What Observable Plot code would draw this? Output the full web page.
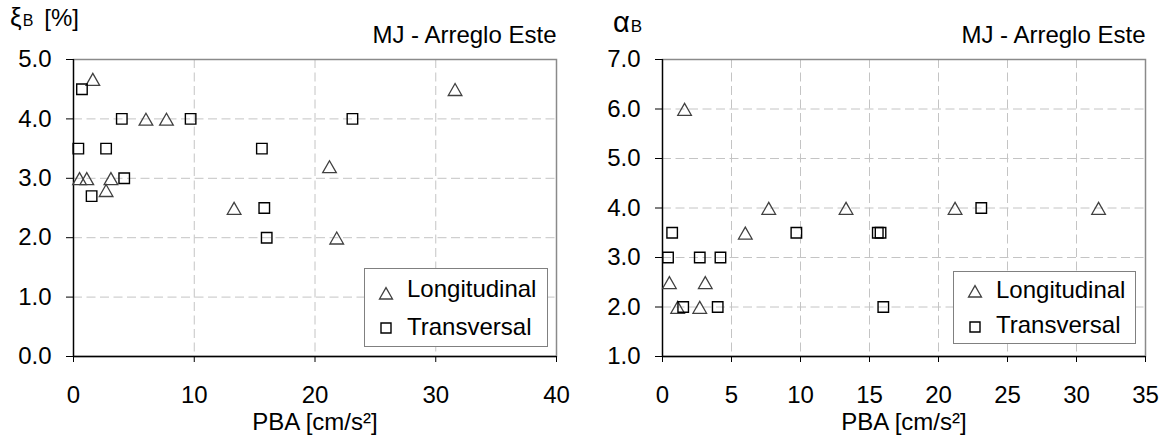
<!DOCTYPE html>
<html><head><meta charset="utf-8">
<script src="https://cdn.jsdelivr.net/npm/d3@7"></script>
<script src="https://cdn.jsdelivr.net/npm/@observablehq/plot@0.6"></script>
<style>
body{margin:0;background:#fff;font-family:"Liberation Sans",Arial,sans-serif;}
#wrap{display:flex;width:1164px;height:437px;}
.panel{position:relative;width:582px;height:437px;}
.legend{position:absolute;background:#fff;border:1px solid #808080;box-sizing:border-box;}
.legend svg{display:block;}
</style></head><body>
<div id="wrap"><div class="panel" id="left"></div><div class="panel" id="right"></div></div>
<script>
// ---- Data ----
const title = "MJ - Arreglo Este";
const xLabel = "PBA [cm/s²]";
const seriesNames = ["Longitudinal", "Transversal"];

// Left panel: damping ξB [%]
const xiLongPBA  = [0.5, 1.1, 1.6, 2.7, 3.1, 6.0, 7.7, 13.3, 21.2, 21.8, 31.6];
const xiLongVal  = [3.0, 3.0, 4.67, 2.8, 3.0, 4.0, 4.0, 2.5, 3.2, 2.0, 4.5];
const xiTransPBA = [0.4, 0.7, 1.5, 2.7, 4.0, 4.2, 9.7, 15.6, 15.8, 16.0, 23.1];
const xiTransVal = [3.5, 4.5, 2.7, 3.5, 4.0, 3.0, 4.0, 3.5, 2.5, 2.0, 4.0];
const xiXTicks = [0, 10, 20, 30, 40];
const xiYTicks = [0, 1, 2, 3, 4, 5];

// Right panel: αB
const alLongPBA  = [0.5, 1.1, 1.6, 2.7, 3.1, 6.0, 7.7, 13.3, 21.2, 31.6];
const alLongVal  = [2.5, 2.0, 6.0, 2.0, 2.5, 3.5, 4.0, 4.0, 4.0, 4.0];
const alTransPBA = [0.4, 0.7, 1.5, 2.7, 4.0, 4.2, 9.7, 15.6, 15.8, 16.0, 23.1];
const alTransVal = [3.0, 3.5, 2.0, 3.0, 2.0, 3.0, 3.5, 3.5, 3.5, 2.0, 4.0];
const alXTicks = [0, 5, 10, 15, 20, 25, 30, 35];
const alYTicks = [1, 2, 3, 4, 5, 6, 7];

// bounding-box centred triangle marker (Excel style)
const triangle = {draw(ctx, size){
  const s = Math.sqrt(size);
  ctx.moveTo(0, -0.54*s);
  ctx.lineTo(0.65*s, 0.6*s);
  ctx.lineTo(-0.65*s, 0.6*s);
  ctx.closePath();
}};

const FONT = "Liberation Sans, Arial, sans-serif";
const grid = {stroke:"#c4c4c4", strokeOpacity:1, strokeWidth:1, strokeDasharray:"9,4.5"};

function makePanel(cfg){
  const el = document.getElementById(cfg.id);
  const longData = cfg.longX.map((x,i)=>({x, y: cfg.longY[i]}));
  const transData = cfg.transX.map((x,i)=>({x, y: cfg.transY[i]}));
  const xd = [cfg.xTicks[0], cfg.xTicks[cfg.xTicks.length-1]];
  const yd = [cfg.yTicks[0], cfg.yTicks[cfg.yTicks.length-1]];
  const svg = Plot.plot({
    width: 582, height: 437,
    marginLeft: cfg.marginLeft, marginRight: cfg.marginRight, marginTop: 59, marginBottom: 81,
    x: {domain: xd}, y: {domain: yd},
    style: {background:"#fff", color:"#000", fontFamily: FONT},
    marks: [
      Plot.gridX(cfg.xTicks.slice(1,-1), grid),
      Plot.gridY(cfg.yTicks.slice(1,-1), grid),
      Plot.frame({stroke:"#8a8a8a", strokeWidth:1.5}),
      Plot.ruleX([xd[0]], {stroke:"#000", strokeWidth:1.3}),
      Plot.ruleY([yd[0]], {stroke:"#000", strokeWidth:1.3}),
      Plot.axisX({ticks: cfg.xTicks, tickSize:6, tickPadding:23, fontSize:24, label:null, tickFormat: d=>String(d)}),
      Plot.axisY({ticks: cfg.yTicks, tickSize:7, tickPadding:15, fontSize:24, label:null, tickFormat: d=>d.toFixed(1)}),
      Plot.dot(longData, {x:"x", y:"y", symbol: triangle, r:5.92, stroke:"#404040", strokeWidth:1.3, fill:"none"}),
      Plot.dot(transData, {x:"x", y:"y", symbol:"square", r:5.92, stroke:"#000", strokeWidth:1.4, fill:"none"}),
      Plot.text([title], {frameAnchor:"top-right", textAnchor:"end", lineAnchor:"bottom", dy:-17, fontSize:24}),
      Plot.text([xLabel], {frameAnchor:"bottom", lineAnchor:"bottom", dy:73, fontSize:24})
    ]
  });
  el.appendChild(svg);
  // y-axis title with subscript: separate text pieces placed one after another
  const s = d3.select(svg);
  let x = cfg.yl.x;
  const parts = [
    {t: cfg.yl.main, size: cfg.yl.size, gap: 1},
    {t: "B", size: cfg.yl.subSize, gap: 11},
    {t: cfg.yl.rest, size: cfg.yl.restSize, gap: 0}
  ];
  for (const p of parts) {
    if (!p.t) continue;
    const node = s.append("text")
      .attr("x", x).attr("y", cfg.yl.y)
      .attr("text-anchor", "start")
      .attr("font-family", FONT).attr("fill", "#000").attr("font-size", p.size)
      .text(p.t).node();
    x += node.getComputedTextLength() + p.gap;
  }

  // legend
  const L = cfg.legend;
  const lg = d3.select(el).append("div").attr("class","legend")
    .style("left", L.left+"px").style("top", L.top+"px")
    .style("width", L.w+"px").style("height", L.h+"px");
  const ls = lg.append("svg").attr("width", L.w-2).attr("height", L.h-2)
    .attr("font-family", FONT).attr("font-size", 24);
  ls.append("path").attr("transform", `translate(${21},${L.r1c-1})`)
    .attr("d", d3.symbol(triangle, 100)()).attr("fill","none").attr("stroke","#404040").attr("stroke-width",1.3);
  ls.append("text").attr("x", 42).attr("y", L.r1b-1).text(seriesNames[0]);
  ls.append("path").attr("transform", `translate(${21},${L.r2c-1})`)
    .attr("d", d3.symbol(d3.symbolSquare, 100)()).attr("fill","none").attr("stroke","#000").attr("stroke-width",1.4);
  ls.append("text").attr("x", 42).attr("y", L.r2b-1).text(seriesNames[1]);
}

makePanel({
  id:"left", marginLeft:73, marginRight:26,
  xTicks: xiXTicks, yTicks: xiYTicks,
  longX: xiLongPBA, longY: xiLongVal, transX: xiTransPBA, transY: xiTransVal,
  yl: {x:10, y:26, size:26, subSize:16, restSize:24, main:"ξ", rest:"[%]"},
  legend: {left:364, top:268, w:184, h:79, r1c:25, r1b:29, r2c:60, r2b:67}
});
makePanel({
  id:"right", marginLeft:80, marginRight:19,
  xTicks: alXTicks, yTicks: alYTicks,
  longX: alLongPBA, longY: alLongVal, transX: alTransPBA, transY: alTransVal,
  yl: {x:31, y:32, size:29, subSize:17, restSize:24, main:"α", rest:""},
  legend: {left:371, top:271, w:183, h:73, r1c:20, r1b:27, r2c:56, r2b:62}
});
</script>
</body></html>
